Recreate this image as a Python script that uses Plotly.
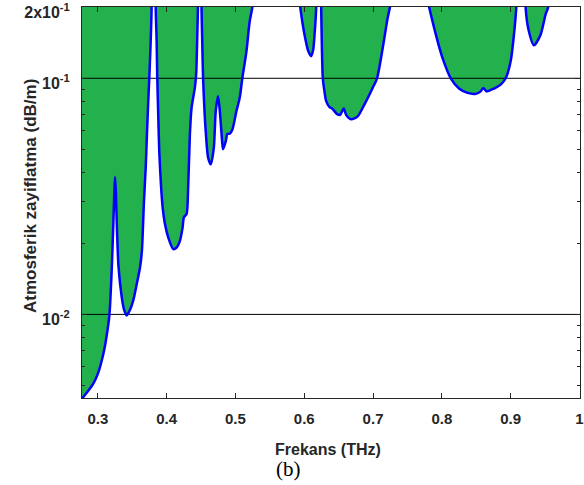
import math
import plotly.graph_objects as go

# Frequency (THz)
freq = [0.277, 0.285, 0.2936, 0.300, 0.308, 0.3125, 0.3168, 0.3200, 0.3225, 0.3240,
        0.3250, 0.3262, 0.3280, 0.3300, 0.3348, 0.3380, 0.3420, 0.3470, 0.3516, 0.3560,
        0.3613, 0.3640, 0.3671, 0.3696, 0.3714, 0.3733, 0.3748, 0.3768, 0.3782, 0.3805,
        0.3841, 0.3855, 0.3864, 0.3879, 0.3893, 0.3917, 0.3942, 0.3975, 0.4023, 0.4096,
        0.4145, 0.4193, 0.4232, 0.4251, 0.4290, 0.4313, 0.4338, 0.4362, 0.4377, 0.4410,
        0.4430, 0.4445, 0.4455, 0.4480, 0.4507, 0.4518, 0.4530, 0.4548, 0.4565, 0.4603,
        0.4642, 0.4686, 0.4714, 0.4748, 0.4777, 0.4806, 0.4820, 0.4860, 0.4884, 0.4917,
        0.4956, 0.5014, 0.5062, 0.5100, 0.5160, 0.5207, 0.5246, 0.5350, 0.5570, 0.5800,
        0.5942, 0.6004, 0.6060, 0.6101, 0.6130, 0.6150, 0.6174, 0.6205, 0.6246, 0.6270,
        0.6294, 0.6319, 0.6367, 0.6406, 0.6473, 0.6522, 0.6574, 0.6609, 0.6681, 0.6777,
        0.6874, 0.6994, 0.7058, 0.7140, 0.7212, 0.7246, 0.7520, 0.7816, 0.7913, 0.8009,
        0.8130, 0.8250, 0.8372, 0.8493, 0.8565, 0.8603, 0.8652, 0.8758, 0.8855, 0.8928,
        0.9000, 0.9048, 0.9082, 0.9160, 0.9217, 0.9255, 0.9338, 0.9435, 0.9507, 0.9545,
        0.9700, 0.9880, 1.0000]

# Atmospheric attenuation (dB/m)
atten = [0.00440, 0.0047, 0.0051, 0.0056, 0.0068, 0.0080, 0.0099, 0.0150, 0.0240, 0.0330,
         0.0382, 0.0330, 0.0220, 0.0160, 0.0118, 0.0105, 0.0099, 0.0105, 0.0115, 0.0132,
         0.0158, 0.0185, 0.0303, 0.0418, 0.0579, 0.0800, 0.1000, 0.1430, 0.2000, 3.0,
         0.2000, 0.1430, 0.1000, 0.0680, 0.0490, 0.0356, 0.0284, 0.0242, 0.0212, 0.0189,
         0.0192, 0.0205, 0.0233, 0.0258, 0.0266, 0.0344, 0.0578, 0.0750, 0.0800, 0.0910,
         0.1050, 0.1500, 0.2000, 1.0, 0.2000, 0.1400, 0.1000, 0.0750, 0.0616, 0.0461,
         0.0432, 0.0508, 0.0726, 0.0839, 0.0703, 0.0542, 0.0500, 0.0542, 0.0582, 0.0582,
         0.0607, 0.0726, 0.0826, 0.1000, 0.1300, 0.1740, 0.2000, 0.4000, 2.0, 0.5000,
         0.2000, 0.1530, 0.1300, 0.1240, 0.1320, 0.1530, 0.2000, 1.0, 0.2000, 0.1000,
         0.0880, 0.0800, 0.0755, 0.0745, 0.0707, 0.0700, 0.0745, 0.0700, 0.0670, 0.0690,
         0.0774, 0.0910, 0.1000, 0.1340, 0.1800, 0.2000, 0.5000, 0.2000, 0.1530, 0.1220,
         0.1000, 0.0905, 0.0867, 0.0859, 0.0880, 0.0910, 0.0880, 0.0905, 0.0940, 0.1000,
         0.1180, 0.1530, 0.2000, 1.0, 0.2000, 0.1630, 0.1380, 0.1530, 0.1860, 0.2000,
         0.5000, 1.5, 0.8000]

fill_ceiling = 1000.0  # area is filled from the curve up to the top

x_ticks = [0.3, 0.4, 0.5, 0.6, 0.7, 0.8, 0.9, 1.0]
x_ticktext = ["0.3", "0.4", "0.5", "0.6", "0.7", "0.8", "0.9", "1"]
y_ticks = [0.01, 0.1, 0.2]
y_ticktext = ["10<sup>-2</sup>", "10<sup>-1</sup>", "2x10<sup>-1</sup>"]
y_minor = [0.005, 0.006, 0.007, 0.008, 0.009,
           0.02, 0.03, 0.04, 0.05, 0.06, 0.07, 0.08, 0.09]
grid_levels = [0.01, 0.1]

x_range = [0.277, 1.0008]
y_range_log = [-2.354, math.log10(0.2) + 0.0008]

GREEN = "#22B14C"
BLUE = "#0000FF"
AX = "#262626"
FONT = "Liberation Sans, Arial, sans-serif"
SMOOTH = 0.7

fig = go.Figure()

# top boundary for fill
fig.add_trace(go.Scatter(x=freq, y=[fill_ceiling] * len(freq), mode="lines",
                         line=dict(width=0, color=GREEN), hoverinfo="skip",
                         showlegend=False))
# fill between curve and top
fig.add_trace(go.Scatter(x=freq, y=atten, mode="lines", fill="tonexty",
                         fillcolor=GREEN,
                         line=dict(width=0, color=GREEN, shape="spline", smoothing=SMOOTH),
                         hoverinfo="skip", showlegend=False))
# grid lines on top of fill
for g in grid_levels:
    fig.add_trace(go.Scatter(x=x_range, y=[g, g], mode="lines",
                             line=dict(color="black", width=1),
                             hoverinfo="skip", showlegend=False))
# curve
fig.add_trace(go.Scatter(x=freq, y=atten, mode="lines",
                         line=dict(color=BLUE, width=2.5, shape="spline", smoothing=SMOOTH),
                         showlegend=False))

fig.update_layout(
    width=584, height=485,
    margin=dict(l=81.5, r=3.5, t=6.5, b=86.5, autoexpand=False),
    paper_bgcolor="white", plot_bgcolor="white",
    font=dict(family=FONT, color=AX),
    xaxis=dict(range=x_range, tickmode="array", tickvals=x_ticks, ticktext=x_ticktext,
               ticks="inside", ticklen=5, tickwidth=1, tickcolor=AX,
               showline=True, linecolor=AX, linewidth=1, mirror="ticks",
               showgrid=False, zeroline=False, layer="above traces",
               automargin=False,
               ticklabelstandoff=7, ticklabeloverflow="allow",
               tickfont=dict(family=FONT, size=15, color=AX, weight="bold")),
    yaxis=dict(type="log", range=y_range_log, tickmode="array", tickvals=y_ticks,
               ticktext=y_ticktext,
               ticks="inside", ticklen=5, tickwidth=1, tickcolor=AX,
               minor=dict(tickmode="array", tickvals=y_minor, ticks="inside",
                          ticklen=3, tickcolor=AX, showgrid=False),
               showline=True, linecolor=AX, linewidth=1, mirror="ticks",
               showgrid=False, zeroline=False, layer="above traces",
               automargin=False,
               ticklabelstandoff=8, ticklabelshift=5, ticklabeloverflow="allow",
               tickfont=dict(family=FONT, size=16, color=AX, weight="bold")),
    annotations=[
        dict(text="Frekans (THz)", xref="paper", yref="paper", x=0.494, y=-0.131,
             xanchor="center", yanchor="middle", showarrow=False,
             font=dict(family=FONT, size=16, color=AX, weight="bold")),
        dict(text="Atmosferik zayiflatma (dB/m)", xref="paper", yref="paper",
             x=-0.1045, y=0.5166, textangle=-90, xanchor="center", yanchor="middle",
             showarrow=False,
             font=dict(family=FONT, size=17, color=AX, weight="bold")),
        dict(text="(b)", xref="paper", yref="paper", x=0.4138, y=-0.1824,
             xanchor="center", yanchor="middle", showarrow=False,
             font=dict(family="Liberation Serif, Times New Roman, serif", size=21,
                       color="black")),
    ],
)

fig.write_html("out.html")
